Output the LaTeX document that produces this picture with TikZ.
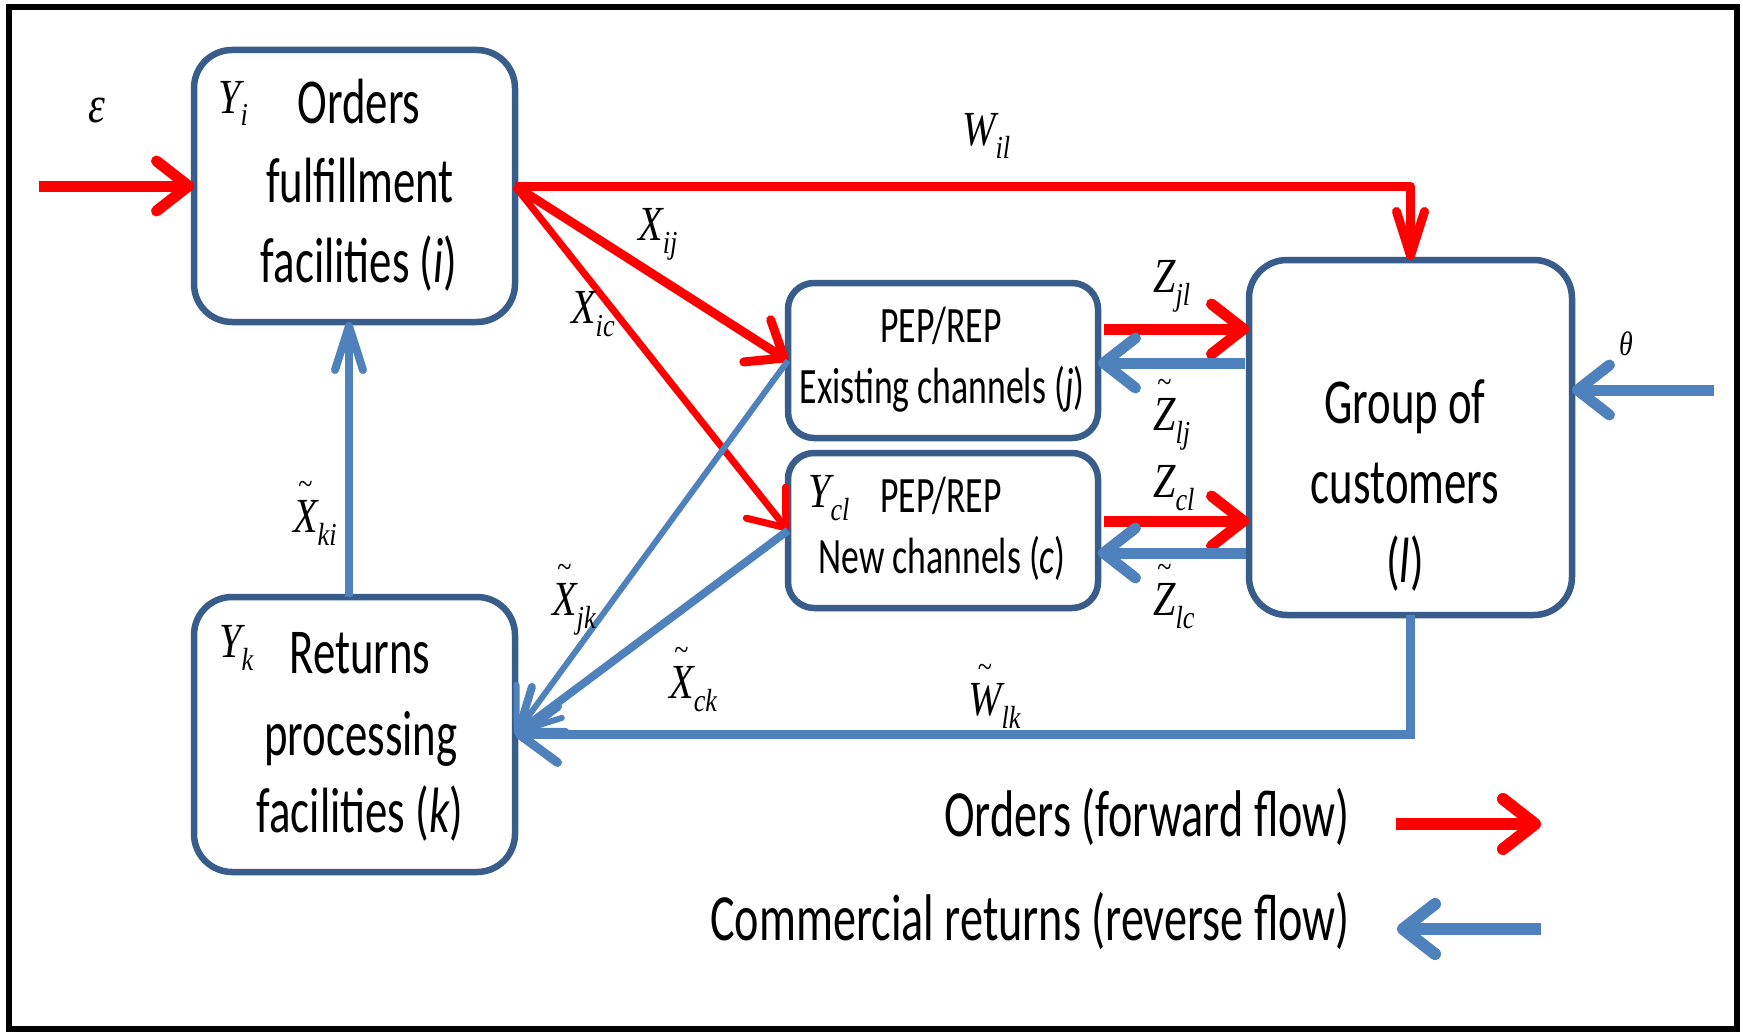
\documentclass[tikz,border=0pt]{standalone}
\usepackage{fontspec}
\setmainfont[FakeStretch=0.7]{Carlito}
\newfontfamily\mvf[FakeStretch=0.82]{Liberation Serif}
\usetikzlibrary{arrows.meta}

\definecolor{ordred}{RGB}{255,0,0}
\definecolor{retblue}{RGB}{79,129,189}
\definecolor{boxblue}{RGB}{56,93,138}

% text sizes
\newcommand\bigtxt{\fontsize{64}{70}\selectfont}
\newcommand\midtxt{\fontsize{51}{56}\selectfont}
\newcommand\legtxt{\fontsize{66}{72}\selectfont}
\newcommand\mainvar{\mvf\itshape\fontsize{49}{50}\selectfont}
\newcommand\subvar{\mvf\itshape\fontsize{32}{34}\selectfont}

% variable with subscript, and the same with a tilde over the letter
\newcommand\mv[2]{{\mainvar #1}\raisebox{-13pt}{\subvar #2}}
\newcommand\tildeon[1]{\setbox0\hbox{#1}\hbox to\wd0{\hss\raisebox{38pt}{\mvf\fontsize{32}{34}\selectfont\char`\~}\hss}\kern-\wd0\box0}
\newcommand\mtv[2]{\tildeon{\mainvar #1}\raisebox{-13pt}{\subvar #2}}

\begin{document}
\begin{tikzpicture}[x=1pt,y=-1pt,
  box/.style={draw=boxblue, line width=6.5pt, rounded corners=38pt, fill=white,
              inner sep=0pt, outer sep=0pt},
  chbox/.style={box, rounded corners=26pt},
  wide/.style={-{Straight Barb[length=32pt,width=50pt,round]}},
  slim/.style={-{Straight Barb[length=44pt,width=28pt,round]}},
  ret/.style={-{Straight Barb[length=38pt,width=56pt,round]}},
  fwd/.style={draw=ordred},
  rev/.style={draw=retblue},
  txt/.style={inner sep=0pt, anchor=base},
  lbl/.style={inner sep=0pt, anchor=base west},
]
\useasboundingbox (0,0) rectangle (1743,1033);
\fill[white] (0,0) rectangle (1743,1033);
\draw[line width=6pt] (9,7) rectangle (1737,1029);

% facility, channel and customer boxes
\node[box, minimum width=321pt, minimum height=272pt] (bi) at (354.5,186) {};
\node[box, minimum width=321pt, minimum height=275pt] (bk) at (354.5,734.5) {};
\node[chbox, minimum width=310pt, minimum height=155pt] (bj) at (943,360.5) {};
\node[chbox, minimum width=310pt, minimum height=155pt] (bc) at (943,530.5) {};
\node[box, minimum width=323pt, minimum height=355pt] (bl) at (1410.5,437.5) {};

% box texts
\node[txt, font=\bigtxt] (ti1) at (359,123) {Orders};
\node[txt, font=\bigtxt] (ti2) at (360,202) {fulfillment};
\node[txt, font=\bigtxt] (ti3) at (359,282) {facilities (\textit{i})};
\node[txt, font=\bigtxt] (tk1) at (360,673) {Returns};
\node[txt, font=\bigtxt] (tk2) at (361,755) {processing};
\node[txt, font=\bigtxt] (tk3) at (360,832) {facilities (\textit{k})};
\node[txt, font=\midtxt] (tj1) at (941,342) {PEP/REP};
\node[txt, font=\midtxt] (tj2) at (942,403) {Existing channels (\textit{j})};
\node[txt, font=\midtxt] (tc1) at (941,512) {PEP/REP};
\node[txt, font=\midtxt] (tc2) at (942,573) {New channels (\textit{c})};
\node[txt, font=\bigtxt] (tl1) at (1405,423) {Group of};
\node[txt, font=\bigtxt] (tl2) at (1405,503) {customers};
\node[txt, font=\bigtxt] (tl3) at (1405,582) {(\textit{l})};

% capacity variables in the boxes
\node[lbl] (yi) at (218,113) {\mv{Y}{i}};
\node[lbl] (yk) at (219,657) {\mv{Y}{k}};
\node[lbl] (ycl) at (808,507) {\mv{Y}{cl}};

% forward flows (orders)
\coordinate (eps0) at (39,186);
\draw[fwd, wide, line width=11pt] (eps0) -- (bi.west);
\draw[fwd, slim, line width=9pt, line join=round] (bi.east) -| (bl.north);
\draw[fwd, wide, line width=9pt] (bi.east) -- (bj.west);
\draw[fwd, wide, line width=7pt] (bi.east) -- (bc.west);
\coordinate (zjl) at (0,329);
\coordinate (zlj) at (0,363);
\coordinate (zcl) at (0,521);
\coordinate (zlc) at (0,553);
\draw[fwd, wide, line width=11pt, shorten <=6pt] (bj.east |- zjl) -- (bl.west |- zjl);
\draw[fwd, wide, line width=11pt, shorten <=6pt] (bc.east |- zcl) -- (bl.west |- zcl);

% reverse flows (commercial returns)
\draw[rev, wide, line width=11pt, shorten <=4pt] (bl.west |- zlj) -- (bj.east |- zlj);
\draw[rev, wide, line width=11pt, shorten <=3pt] (bl.west |- zlc) -- (bc.east |- zlc);
\coordinate (th0) at (1714,390);
\draw[rev, wide, line width=11pt] (th0) -- (bl.east |- th0);
\draw[rev, ret, line width=9pt] (bl.south) -- (bl.south |- bk.east) -- (bk.east);
\draw[rev, ret, line width=6pt] (bj.west) -- (bk.east);
\draw[rev, ret, line width=8pt] (bc.west) -- (bk.east);
\draw[rev, slim, line width=8pt] ([xshift=-5.5pt]bk.north) -- ([xshift=-5.5pt]bi.south);

% flow labels
\node[lbl] (leps) at (88,122) {{\mvf\itshape\fontsize{52}{54}\selectfont ε}};
\node[lbl] (lth) at (1619,355) {{\mvf\itshape\fontsize{34}{36}\selectfont θ}};
\node[lbl] (lwil) at (962,145) {\mv{W}{il}};
\node[lbl] (lxij) at (638,240) {\mv{X}{ij}};
\node[lbl] (lxic) at (571,323) {\mv{X}{ic}};
\node[lbl] (lzjl) at (1153,292) {\mv{Z}{jl}};
\node[lbl] (lzlj) at (1153,430) {\mtv{Z}{lj}};
\node[lbl] (lzcl) at (1153,497) {\mv{Z}{cl}};
\node[lbl] (lzlc) at (1153,615) {\mtv{Z}{lc}};
\node[lbl] (lxki) at (293,532) {\mtv{X}{ki}};
\node[lbl] (lxjk) at (552,615) {\mtv{X}{jk}};
\node[lbl] (lxck) at (669,698) {\mtv{X}{ck}};
\node[lbl] (lwlk) at (968,715) {\mtv{W}{lk}};

% legend
\node[inner sep=0pt, anchor=base east, font=\legtxt] (lgf) at (1350,836) {Orders (forward flow)};
\node[inner sep=0pt, anchor=base east, font=\legtxt] (lgr) at (1350,940) {Commercial returns (reverse flow)};
\coordinate (lgf0) at (1396,824);
\coordinate (lgf1) at (1541,824);
\coordinate (lgr0) at (1541,929);
\coordinate (lgr1) at (1397,929);
\draw[fwd, wide, line width=12pt] (lgf0) -- (lgf1);
\draw[rev, wide, line width=12pt] (lgr0) -- (lgr1);
\end{tikzpicture}
\end{document}
